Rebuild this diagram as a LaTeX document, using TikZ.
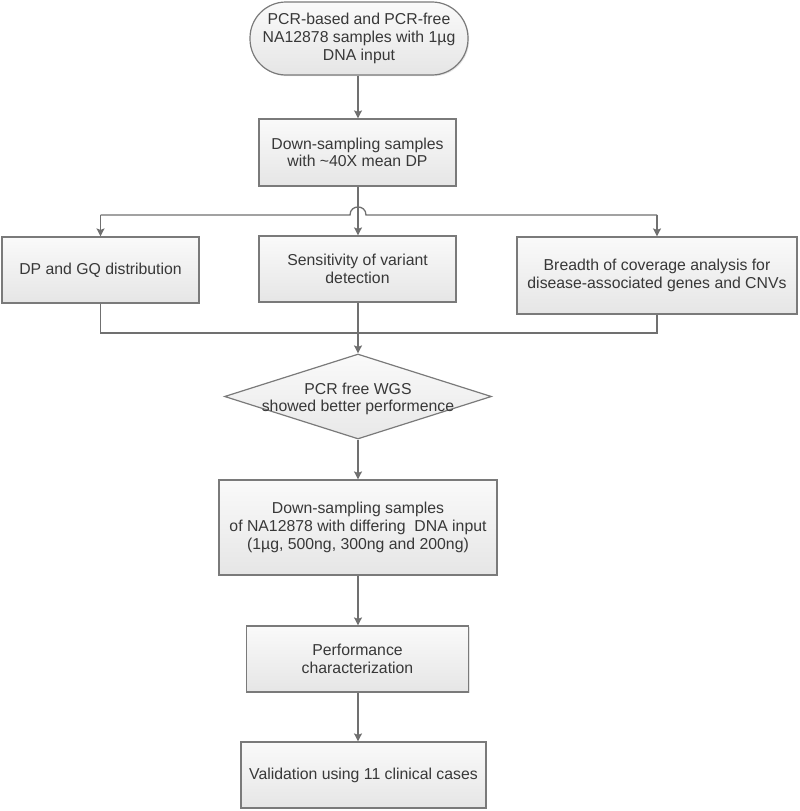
\documentclass[tikz,border=0pt]{standalone}
\usepackage{fontspec}
\setmainfont{Liberation Sans}
\usetikzlibrary{shapes.geometric,shadows,arrows.meta,calc}
\definecolor{linegray}{HTML}{707070}
\definecolor{edgegray}{HTML}{7A7A7A}
\definecolor{txtgray}{HTML}{383838}
\tikzset{
  boxstyle/.style={draw=edgegray, line width=1.2pt, top color=white!98!black, bottom color=white!90!black,
    inner sep=0pt, align=center, text=txtgray, font=\fontsize{15.8}{17.7}\selectfont,
    drop shadow={shadow xshift=1.2pt, shadow yshift=-1.2pt, fill=black!25, opacity=0.4}},
  conn/.style={draw=linegray, line width=1.3pt},
  arr/.style={conn, -{Stealth[length=8pt,width=8pt,inset=1.5pt]}},
  labeltext/.style={inner sep=0pt, align=center, text=txtgray, font=\fontsize{15.8}{17.7}\selectfont}
}
\begin{document}
\begin{tikzpicture}[x=1pt,y=-1pt]
\useasboundingbox (0,0) rectangle (800,811);
% nodes
\node[boxstyle, rounded corners=36pt, minimum width=218pt, minimum height=73pt] (start) at (359,38.5)
  {PCR-based and PCR-free\\NA12878 samples with 1µg\\DNA input};
\node[boxstyle, minimum width=197pt, minimum height=67pt] (down1) at (357.5,152.5)
  {Down-sampling samples\\with \textasciitilde40X mean DP};
\node[boxstyle, minimum width=197pt, minimum height=66pt] (left) at (100.5,270)
  {DP and GQ distribution};
\node[boxstyle, minimum width=197pt, minimum height=66pt] (mid) at (357.5,269)
  {Sensitivity of variant\\detection};
\node[boxstyle, minimum width=280pt, minimum height=77pt] (right) at (657,275.5)
  {Breadth of coverage analysis for\\disease-associated genes and CNVs};
\node[diamond, draw=edgegray, line width=1.2pt, top color=white!98!black, bottom color=white!91!black,
  minimum width=267pt, minimum height=85pt, inner sep=0pt] (dia) at (358,396.5) {};
\node[labeltext] (diatext) at (358,399) {PCR free WGS\\showed better performence};
\node[boxstyle, minimum width=278pt, minimum height=95pt] (down2) at (358,527.5)
  {Down-sampling samples\\of NA12878 with differing\ \ DNA input\\(1µg, 500ng, 300ng and 200ng)};
\node[boxstyle, minimum width=222pt, minimum height=66pt] (perf) at (357.5,659)
  {Performance\\characterization};
\node[boxstyle, minimum width=245pt, minimum height=66pt] (valid) at (363.5,775)
  {Validation using 11 clinical cases};
% coordinates
\coordinate (bus) at (358,215);
\coordinate (bot) at (358,333);
\coordinate (axis) at (358,0);
% connectors
\draw[arr] (start.south -| axis) -- (down1.north -| axis);
\draw[arr] (down1.south -| axis) -- (mid.north -| axis);
\draw[conn] (bus -| left.north) -- ($(bus)+(-8,0)$) .. controls ($(bus)+(-8,-10.7)$) and ($(bus)+(8,-10.7)$) .. ($(bus)+(8,0)$) -- (bus -| right.north);
\draw[arr] (bus -| left.north) -- (left.north);
\draw[arr] (bus -| right.north) -- (right.north);
\draw[conn] (left.south) -- (left.south |- bot) -- (right.south |- bot) -- (right.south);
\draw[arr] (mid.south -| axis) -- (dia.north);
\draw[arr] (dia.south) -- (down2.north);
\draw[arr] (down2.south -| axis) -- (perf.north -| axis);
\draw[arr] (perf.south -| axis) -- (valid.north -| axis);
\end{tikzpicture}
\end{document}
